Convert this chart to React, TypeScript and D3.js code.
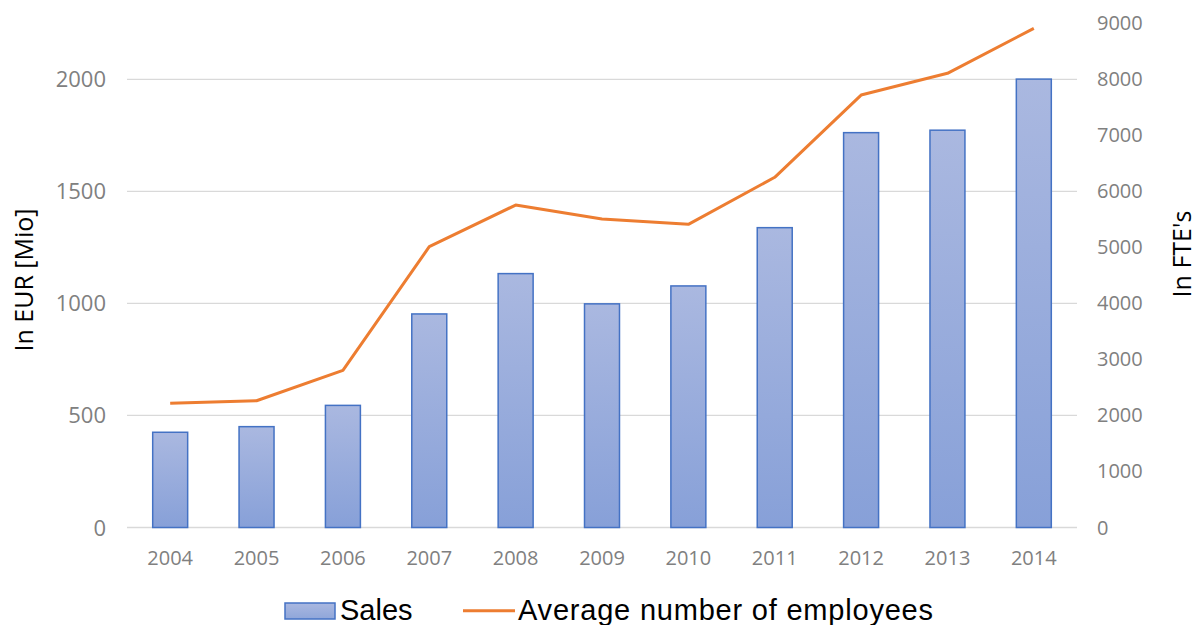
import React from "react";
import * as d3 from "d3";

const years = ["2004","2005","2006","2007","2008","2009","2010","2011","2012","2013","2014"];
const sales = [425, 450, 545, 953, 1133, 998, 1078, 1338, 1762, 1773, 2001];
const employees = [2217, 2263, 2806, 5012, 5756, 5506, 5411, 6251, 7719, 8107, 8910];
const leftTicks = [0, 500, 1000, 1500, 2000];
const rightTicks = [0, 1000, 2000, 3000, 4000, 5000, 6000, 7000, 8000, 9000];

const W = 1198, H = 625;
const plotL = 127, plotR = 1077, plotT = 23.3, plotB = 527.5;

export default function App() {
  const x = d3.scaleBand<string>().domain(years).range([plotL, plotR]).paddingInner(0.595).paddingOuter(0.2975);
  const yL = d3.scaleLinear().domain([0, 2250]).range([plotB, plotT]);
  const yR = d3.scaleLinear().domain([0, 9000]).range([plotB, plotT]);
  const line = d3.line<number>()
    .x((_, i) => (x(years[i]) as number) + x.bandwidth() / 2)
    .y((d) => yR(d));
  const tickFont = "'Open Sans', sans-serif";
  return (
    <svg width={W} height={H} style={{ position: "absolute", left: 0, top: 0, background: "#fff" }}>
      <defs>
        <linearGradient id="barGrad" x1="0" y1="0" x2="0" y2="1">
          <stop offset="0%" stopColor="#aab8e0" />
          <stop offset="100%" stopColor="#87a0d8" />
        </linearGradient>
        <linearGradient id="legGrad" x1="0" y1="0" x2="0" y2="1">
          <stop offset="0%" stopColor="#aab8e0" />
          <stop offset="100%" stopColor="#8fa6da" />
        </linearGradient>
      </defs>
      {leftTicks.map((t) => (
        <line key={"g" + t} x1={plotL} x2={plotR} y1={yL(t)} y2={yL(t)} stroke="#d9d9d9" strokeWidth={1.3} />
      ))}
      {leftTicks.map((t) => (
        <text key={"l" + t} x={106} y={yL(t) + 8} textAnchor="end" fontFamily={tickFont} fontSize={22} fill="#808080">{t}</text>
      ))}
      {rightTicks.map((t) => (
        <text key={"r" + t} x={1097} y={yR(t) + 7} textAnchor="start" fontFamily={tickFont} fontSize={20} fill="#808080">{t}</text>
      ))}
      {years.map((yr, i) => (
        <rect key={"b" + yr} x={x(yr)} y={yL(sales[i])} width={x.bandwidth()} height={plotB - yL(sales[i])}
          fill="url(#barGrad)" stroke="#4472c4" strokeWidth={1.5} />
      ))}
      {years.map((yr) => (
        <text key={"x" + yr} x={(x(yr) as number) + x.bandwidth() / 2} y={565} textAnchor="middle" fontFamily={tickFont} fontSize={20} fill="#808080">{yr}</text>
      ))}
      <path d={line(employees) || ""} fill="none" stroke="#ed7d31" strokeWidth={3} strokeLinejoin="round" />
      <text transform="translate(33,280) rotate(-90)" textAnchor="middle" fontFamily={tickFont} fontSize={25} fill="#000">In EUR [Mio]</text>
      <text transform="translate(1191,254) rotate(-90)" textAnchor="middle" fontFamily={tickFont} fontSize={25} fill="#000">In FTE's</text>
      <rect x={285} y={603} width={50} height={16} fill="url(#legGrad)" stroke="#4472c4" strokeWidth={1.5} />
      <text x={340} y={620} fontFamily="'Liberation Sans', Arial, sans-serif" fontSize={29} fill="#000">Sales</text>
      <line x1={463} x2={515} y1={610.7} y2={610.7} stroke="#ed7d31" strokeWidth={3} />
      <text x={518} y={620} fontFamily="'Liberation Sans', Arial, sans-serif" fontSize={29} fill="#000" textLength={415} lengthAdjust="spacing">Average number of employees</text>
    </svg>
  );
}
